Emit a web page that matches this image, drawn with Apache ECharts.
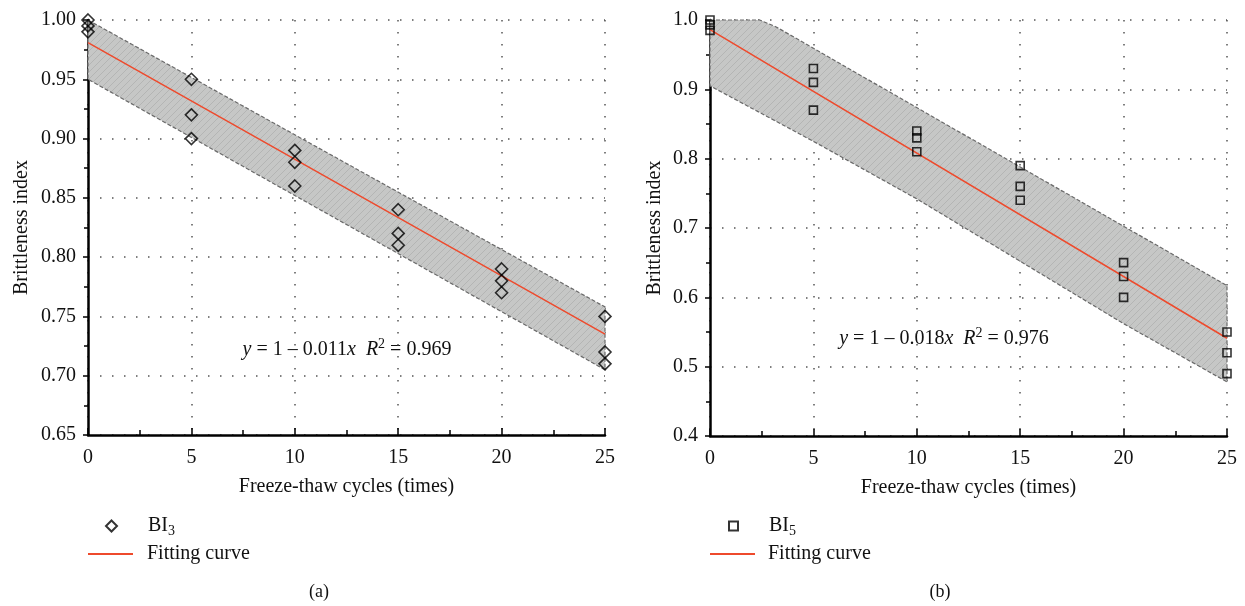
<!DOCTYPE html>
<html lang="en">
<head>
  <meta charset="UTF-8">
  <title>Brittleness index vs freeze-thaw cycles</title>
  <style>
    html, body { margin: 0; padding: 0; background: #fff; }
  </style>
</head>
<body>
  <div id="main" style="width:1245px;height:606px;"></div>
  <script src="https://cdn.jsdelivr.net/npm/echarts@6/dist/echarts.min.js"></script>
  <script>
  // freeze-thaw cycles and the three measured values at each
  var cycleX = [0, 5, 10, 15, 20, 25]
  var bi3 = [[1.00, 0.995, 0.99], [0.95, 0.92, 0.90], [0.89, 0.88, 0.86], [0.84, 0.82, 0.81], [0.79, 0.78, 0.77], [0.75, 0.72, 0.71]]
  var bi5 = [[1.00, 0.993, 0.985], [0.93, 0.91, 0.87], [0.84, 0.83, 0.81], [0.79, 0.76, 0.74], [0.65, 0.63, 0.60], [0.55, 0.52, 0.49]]

  // fitted lines (end points)
  var fitA = [[0, 0.981], [25, 0.735]]
  var fitB = [[0, 0.986], [25, 0.541]]

  // shaded bands (upper / lower edge)
  var bandAUpper = [[0, 1.00], [25, 0.758]]
  var bandALower = [[0, 0.95], [25, 0.705]]
  var bandBUpper = [[0, 1.00], [2.4, 1.00], [3.2, 0.99], [25, 0.617]]
  var bandBLower = [[0, 0.905], [5, 0.825], [10, 0.742], [15, 0.652], [20, 0.562], [25, 0.478]]

  var xTicks = [0, 25, 5]        // min, max, interval
  var yTicksA = [0.65, 1.00, 0.05]
  var yTicksB = [0.4, 1.0, 0.1]

  var FONT = '"Liberation Serif", "DejaVu Serif", serif'
  var RED = '#ee4a2c'

  function toPoints(groups) {
    var pts = []
    groups.forEach(function (vals, i) {
      vals.forEach(function (v) { pts.push([cycleX[i], v]) })
    })
    return pts
  }

  // hatch pattern for the band
  var hatch = document.createElement('canvas')
  hatch.width = 7
  hatch.height = 7
  var hc = hatch.getContext('2d')
  hc.fillStyle = '#c6c7c6'
  hc.fillRect(0, 0, 7, 7)
  hc.strokeStyle = '#b0b0b0'
  hc.lineWidth = 0.8
  hc.beginPath()
  hc.moveTo(-1, 8); hc.lineTo(8, -1)
  hc.moveTo(-1, 1); hc.lineTo(1, -1)
  hc.moveTo(6, 8); hc.lineTo(8, 6)
  hc.stroke()

  function bandSeries(upper, lower, idx) {
    return {
      type: 'custom',
      xAxisIndex: idx,
      yAxisIndex: idx,
      z: 1,
      silent: true,
      data: [[0, upper[0][1]]],
      renderItem: function (params, api) {
        var pts = upper.map(function (p) { return api.coord(p) })
          .concat(lower.slice().reverse().map(function (p) { return api.coord(p) }))
        return {
          type: 'polygon',
          shape: { points: pts },
          style: { fill: { image: hatch, repeat: 'repeat' }, stroke: '#6a6a6a', lineWidth: 1.2, lineDash: [4, 2] }
        }
      }
    }
  }

  function xAxis(idx) {
    return {
      type: 'value', gridIndex: idx,
      min: xTicks[0], max: xTicks[1], interval: xTicks[2],
      name: 'Freeze-thaw cycles (times)', nameLocation: 'middle', nameGap: 42,
      nameTextStyle: { fontFamily: FONT, fontSize: 20, color: '#111' },
      axisLine: { onZero: false, lineStyle: { color: '#000', width: 2.5 } },
      axisTick: { inside: true, length: 7, lineStyle: { color: '#000', width: 1.5 } },
      minorTick: { show: true, splitNumber: 2, length: 5, lineStyle: { color: '#000', width: 1.5 } },
      axisLabel: { fontFamily: FONT, fontSize: 20, color: '#111', margin: 13 },
      splitLine: { show: true, lineStyle: { color: '#555', width: 1.5, type: [1.5, 10.5] } }
    }
  }

  function yAxis(idx, ticks, digits, gap) {
    return {
      type: 'value', gridIndex: idx,
      min: ticks[0], max: ticks[1], interval: ticks[2],
      name: 'Brittleness index', nameLocation: 'middle', nameGap: gap,
      nameTextStyle: { fontFamily: FONT, fontSize: 20, color: '#111' },
      axisLine: { show: true, onZero: false, lineStyle: { color: '#000', width: 2.5 } },
      axisTick: { show: true, length: 5, lineStyle: { color: '#000', width: 1.5 } },
      minorTick: { show: true, splitNumber: 2, length: 4, lineStyle: { color: '#000', width: 1.5 } },
      axisLabel: {
        fontFamily: FONT, fontSize: 20, color: '#111', margin: 12,
        formatter: function (v) { return v.toFixed(digits) }
      },
      splitLine: { show: true, lineStyle: { color: '#555', width: 1.5, type: [1.5, 10.5] } }
    }
  }

  var legendRich = {
    n: { fontFamily: FONT, fontSize: 20, color: '#111', lineHeight: 24 },
    sub: { fontFamily: FONT, fontSize: 14, color: '#111', lineHeight: 12, verticalAlign: 'bottom' }
  }
  function legendFmt(name) {
    if (name === 'BI3') return '{n|BI}{sub|3}'
    if (name === 'BI5') return '{n|BI}{sub|5}'
    return '{n|Fitting curve}'
  }
  function legend(name, left, top, w, h, pad, icon) {
    var l = {
      data: [name], left: left, top: top, padding: 0,
      itemWidth: w, itemHeight: h, selectedMode: false,
      formatter: legendFmt, textStyle: { padding: [0, 0, 0, pad], rich: legendRich }
    }
    if (icon) l.icon = icon
    return l
  }

  var eqRich = {
    t: { fontFamily: FONT, fontSize: 20, fill: '#111', lineHeight: 26 },
    i: { fontFamily: FONT, fontSize: 20, fontStyle: 'italic', fill: '#111', lineHeight: 26 },
    sup: { fontFamily: FONT, fontSize: 14, fill: '#111', lineHeight: 14, verticalAlign: 'top' }
  }

  var myChart = echarts.init(document.getElementById('main'))
  var option = {
    animation: false,
    grid: [
      { left: 88, top: 20, width: 517, height: 415 },
      { left: 710, top: 20, width: 517, height: 416 }
    ],
    xAxis: [xAxis(0), xAxis(1)],
    yAxis: [yAxis(0, yTicksA, 2, 56), yAxis(1, yTicksB, 1, 45)],
    legend: [
      legend('BI3', 105, 516, 11, 11, 26),
      legend('fitA', 88, 544, 45, 2, 9, 'rect'),
      legend('BI5', 728, 516, 9, 9, 26),
      legend('fitB', 710, 544, 45, 2, 8, 'rect')
    ],
    graphic: [
      { type: 'text', x: 347, y: 350, style: { text: '{i|y}{t| = 1 – 0.011}{i|x}{t|  }{i|R}{sup|2}{t| = 0.969}', rich: eqRich, align: 'center', verticalAlign: 'middle' } },
      { type: 'text', x: 944, y: 339, style: { text: '{i|y}{t| = 1 – 0.018}{i|x}{t|  }{i|R}{sup|2}{t| = 0.976}', rich: eqRich, align: 'center', verticalAlign: 'middle' } },
      { type: 'text', x: 319, y: 592, style: { text: '(a)', fontFamily: FONT, fontSize: 18, fill: '#111', align: 'center', verticalAlign: 'middle' } },
      { type: 'text', x: 940, y: 592, style: { text: '(b)', fontFamily: FONT, fontSize: 18, fill: '#111', align: 'center', verticalAlign: 'middle' } }
    ],
    series: [
      bandSeries(bandAUpper, bandALower, 0),
      bandSeries(bandBUpper, bandBLower, 1),
      {
        name: 'fitA', type: 'line', xAxisIndex: 0, yAxisIndex: 0, z: 3,
        data: fitA, symbol: 'none', lineStyle: { color: RED, width: 1.5 }, itemStyle: { color: RED }
      },
      {
        name: 'fitB', type: 'line', xAxisIndex: 1, yAxisIndex: 1, z: 3,
        data: fitB, symbol: 'none', lineStyle: { color: RED, width: 1.5 }, itemStyle: { color: RED }
      },
      {
        name: 'BI3', type: 'scatter', xAxisIndex: 0, yAxisIndex: 0, z: 4, clip: false,
        data: toPoints(bi3), symbol: 'diamond', symbolSize: 12,
        itemStyle: { color: 'rgba(0,0,0,0)', borderColor: '#000', borderWidth: 1.6 }
      },
      {
        name: 'BI5', type: 'scatter', xAxisIndex: 1, yAxisIndex: 1, z: 4, clip: false,
        data: toPoints(bi5), symbol: 'rect', symbolSize: 8,
        itemStyle: { color: 'rgba(0,0,0,0)', borderColor: '#000', borderWidth: 1.6 }
      }
    ]
  }
  myChart.setOption(option)
  </script>
</body>
</html>
